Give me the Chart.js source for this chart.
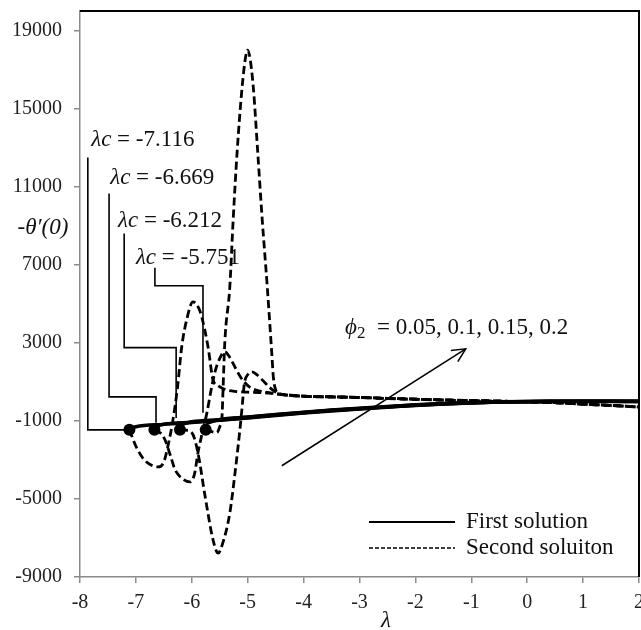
<!DOCTYPE html>
<html><head><meta charset="utf-8">
<script src="https://cdn.jsdelivr.net/npm/chart.js@4.4.1/dist/chart.umd.min.js"></script>
<style>html,body{margin:0;padding:0;background:#fff;overflow:hidden;}canvas{display:block;}</style>
</head><body>
<canvas id="c" width="645" height="630"></canvas>
<script>
// ---- tick labels ----
const xTicks = [-8,-7,-6,-5,-4,-3,-2,-1,0,1,2];
const yTicks = [-9000,-5000,-1000,3000,7000,11000,15000,19000];

// ---- critical points (turning points) ----
const criticalLambda = [-7.116,-6.669,-6.212,-5.751];
const criticalTheta  = [-1450,-1450,-1450,-1450];
const criticalLabels = ['-7.116','-6.669','-6.212','-5.751'];

// ---- first solution (one per phi2) ----
const firstX_A = [-7.116,-7,-6.5,-6,-5.5,-5,-4.5,-4,-3.5,-3,-2.5,-2,-1.5,-1,-0.5,0,0.5,1,1.5,2];
const firstY_A = [-1400,-1300,-1180,-1080,-970,-850,-720,-600,-490,-390,-300,-210,-140,-80,-40,-20,-10,-5,-5,-10];
const firstX_B = [-6.669,-6.5,-6,-5.5,-5,-4.5,-4,-3.5,-3,-2.5,-2,-1.5,-1,-0.5,0,0.5,1,1.5,2];
const firstY_B = [-1300,-1170,-1065,-955,-835,-705,-585,-475,-378,-288,-200,-132,-74,-35,-15,-5,0,0,-5];
const firstX_C = [-6.212,-6,-5.5,-5,-4.5,-4,-3.5,-3,-2.5,-2,-1.5,-1,-0.5,0,0.5,1,1.5,2];
const firstY_C = [-1200,-1050,-940,-820,-690,-570,-460,-366,-276,-190,-124,-68,-30,-10,0,5,5,0];
const firstX_D = [-5.751,-5.5,-5,-4.5,-4,-3.5,-3,-2.5,-2,-1.5,-1,-0.5,0,0.5,1,1.5,2];
const firstY_D = [-1150,-925,-805,-675,-555,-445,-354,-264,-180,-116,-62,-25,-5,5,10,10,5];

// ---- second solution (one per phi2) ----
const secondX_A = [-7.116,-7.0,-6.85,-6.7,-6.6,-6.5,-6.42,-6.34,-6.26,-6.18,-6.09,-5.98,-5.88,-5.82,-5.71,-5.62,-5.53,-5.4,-5.2,-5.0,-4.8,-4.6,-4.4,-4.0,-3.5,-3.0,-2.5,-2.0,-1.5,-1.0,-0.5,0,0.5,1.0,1.5,2.0];
const secondY_A = [-1450,-2300,-3000,-3300,-3360,-3100,-2200,-1000,600,2800,4200,5100,4800,4300,2800,1100,800,600,500,470,450,420,350,260,230,200,150,110,70,40,10,-20,-70,-140,-210,-290];
const secondX_B = [-6.669,-6.55,-6.48,-6.38,-6.3,-6.15,-6.03,-5.95,-5.89,-5.8,-5.73,-5.66,-5.59,-5.5,-5.41,-5.32,-5.23,-5.14,-5.05,-4.95,-4.85,-4.7,-4.55,-4.4,-4.0,-3.5,-3.0,-2.5,-2.0,-1.5,-1.0,-0.5,0,0.5,1.0,1.5,2.0];
const secondY_B = [-1450,-1650,-1970,-2800,-3500,-4000,-4130,-3700,-2640,-1460,-590,500,1460,2200,2540,2250,1770,1300,950,700,580,480,420,360,270,235,205,155,115,72,42,12,-18,-68,-138,-208,-285];
const secondX_C = [-6.212,-6.1,-5.98,-5.89,-5.76,-5.62,-5.53,-5.45,-5.32,-5.22,-5.14,-5.1,-5.06,-4.99,-4.92,-4.83,-4.74,-4.6,-4.5,-4.4,-4.0,-3.5,-3.0,-2.5,-2.0,-1.5,-1.0,-0.5,0,0.5,1.0,1.5,2.0];
const secondY_C = [-1450,-1480,-1700,-2640,-4900,-7100,-7780,-7300,-5720,-3500,-1460,-300,900,1400,1510,1350,1100,690,480,370,265,228,198,148,108,68,38,8,-22,-72,-142,-212,-292];
const secondX_D = [-5.751,-5.65,-5.55,-5.5,-5.46,-5.44,-5.41,-5.32,-5.26,-5.19,-5.1,-5.04,-5.0,-4.96,-4.9,-4.82,-4.74,-4.65,-4.57,-4.54,-4.5,-4.45,-4.3,-4.0,-3.5,-3.0,-2.5,-2.0,-1.5,-1.0,-0.5,0,0.5,1.0,1.5,2.0];
const secondY_D = [-1450,-1550,-1600,-1300,-800,700,3000,5870,9300,12740,16100,17600,18000,17600,16100,12740,9300,5870,2490,1200,600,420,320,255,225,195,145,105,65,35,5,-25,-75,-145,-215,-295];

// ---- label leader lines (data coordinates) ----
const leader1 = [[-7.86,12500],[-7.86,-1460],[-7.12,-1460]];
const leader2 = [[-7.48,10650],[-7.48,230],[-6.64,230],[-6.64,-1100]];
const leader3 = [[-7.21,8600],[-7.21,2750],[-6.28,2750],[-6.28,-850]];
const leader4 = [[-6.66,6850],[-6.66,5920],[-5.80,5920],[-5.80,-590]];
const labelPos = [[-7.80,13400],[-7.46,11450],[-7.32,9250],[-7.0,7360]];
const arrowFrom = [-4.39,-3300];
const arrowTo = [-1.10,2690];

const SERIF = '"Liberation Serif","Times New Roman",serif';
const pts = (xs, ys) => xs.map((x,i)=>({x:x, y:ys[i]}));

const solid = (xs,ys) => ({data:pts(xs,ys), borderColor:'#000', borderWidth:3.5, pointRadius:0, cubicInterpolationMode:'monotone', fill:false});
const dashed = (xs,ys) => ({data:pts(xs,ys), borderColor:'#000', borderWidth:2.8, borderDash:[8,4], pointRadius:0, cubicInterpolationMode:'monotone', fill:false});
const leader = (arr) => ({data:arr.map(p=>({x:p[0],y:p[1]})), borderColor:'#000', borderWidth:1.6, pointRadius:0, tension:0, fill:false});

const datasets = [
  leader(leader1), leader(leader2), leader(leader3), leader(leader4),
  dashed(secondX_A, secondY_A), dashed(secondX_B, secondY_B), dashed(secondX_C, secondY_C), dashed(secondX_D, secondY_D),
  solid(firstX_A, firstY_A), solid(firstX_B, firstY_B), solid(firstX_C, firstY_C), solid(firstX_D, firstY_D),
  {data:pts(criticalLambda, criticalTheta), showLine:false, pointRadius:6, pointBackgroundColor:'#000', pointBorderColor:'#000', pointBorderWidth:0}
];

function runs(ctx, parts, x, y) {
  for (const p of parts) {
    ctx.font = p.f;
    ctx.fillText(p.t, x, y + (p.dy||0));
    x += ctx.measureText(p.t).width;
  }
}

const deco = {
  id:'deco',
  afterDatasetsDraw(chart) {
    const {ctx, chartArea:a, scales:{x, y}} = chart;
    ctx.save();
    // frame top & right
    ctx.strokeStyle = '#000'; ctx.lineWidth = 2;
    ctx.beginPath(); ctx.moveTo(a.left, a.top); ctx.lineTo(a.right, a.top); ctx.lineTo(a.right, a.bottom); ctx.stroke();
    // critical labels
    ctx.fillStyle = '#111'; ctx.textBaseline = 'middle'; ctx.textAlign = 'left';
    criticalLabels.forEach((lab, i) => {
      runs(ctx, [{t:'λc', f:'italic 23px '+SERIF}, {t:' = '+lab, f:'23px '+SERIF}], x.getPixelForValue(labelPos[i][0]), y.getPixelForValue(labelPos[i][1]));
    });
    // phi label
    runs(ctx, [{t:'ϕ', f:'italic 23px '+SERIF}, {t:'2', f:'17px '+SERIF, dy:6}, {t:'  = 0.05, 0.1, 0.15, 0.2', f:'23px '+SERIF}], 345, 328);
    // arrow
    const x0 = x.getPixelForValue(arrowFrom[0]), y0 = y.getPixelForValue(arrowFrom[1]);
    const x1 = x.getPixelForValue(arrowTo[0]), y1 = y.getPixelForValue(arrowTo[1]);
    ctx.strokeStyle = '#000'; ctx.lineWidth = 1.5;
    ctx.beginPath(); ctx.moveTo(x0,y0); ctx.lineTo(x1,y1); ctx.stroke();
    const ang = Math.atan2(y1-y0, x1-x0), L = 15, w = 0.45;
    ctx.beginPath();
    ctx.moveTo(x1 - L*Math.cos(ang-w), y1 - L*Math.sin(ang-w));
    ctx.lineTo(x1, y1);
    ctx.lineTo(x1 - L*Math.cos(ang+w), y1 - L*Math.sin(ang+w));
    ctx.stroke();
    // legend
    ctx.lineWidth = 2; ctx.setLineDash([]);
    ctx.beginPath(); ctx.moveTo(369, 522); ctx.lineTo(455, 522); ctx.stroke();
    ctx.lineWidth = 1.6; ctx.setLineDash([4,2]);
    ctx.beginPath(); ctx.moveTo(369, 548); ctx.lineTo(455, 548); ctx.stroke();
    ctx.setLineDash([]);
    ctx.fillStyle = '#111'; ctx.font = '23px '+SERIF;
    ctx.fillText('First solution', 466, 522);
    ctx.fillText('Second soluiton', 466, 548);
    // axis titles
    ctx.textAlign = 'center';
    ctx.font = 'italic 23px '+SERIF;
    ctx.fillText('-θ′(0)', 43, 228);
    ctx.fillText('λ', 386, 621);
    ctx.restore();
  }
};

new Chart(document.getElementById('c'), {
  type:'line',
  data:{datasets},
  options:{
    responsive:false, animation:false,
    layout:{padding:{top:11, right:0, left:0, bottom:0}},
    plugins:{legend:{display:false}, tooltip:{enabled:false}},
    scales:{
      x:{type:'linear', min:-8, max:2,
         afterBuildTicks:s=>{s.ticks = xTicks.map(v=>({value:v}));},
         afterFit:s=>{s.height = 53; s.paddingLeft = 0; s.paddingRight = 0;},
         grid:{drawOnChartArea:false, tickLength:6, color:'#8a8a8a', lineWidth:1.5},
         border:{color:'#8a8a8a', width:1.5},
         ticks:{font:{family:SERIF, size:20}, color:'#222', padding:8, maxRotation:0, autoSkip:false, callback:v=>String(v)}},
      y:{type:'linear', min:-9000, max:20000,
         afterBuildTicks:s=>{s.ticks = yTicks.map(v=>({value:v}));},
         afterFit:s=>{s.width = 80; s.paddingTop = 0; s.paddingBottom = 0;},
         grid:{drawOnChartArea:false, tickLength:6, color:'#8a8a8a', lineWidth:1.5},
         border:{color:'#8a8a8a', width:1.5},
         ticks:{font:{family:SERIF, size:20}, color:'#222', padding:12, autoSkip:false, callback:v=>String(v)}}
    }
  },
  plugins:[deco]
});
</script>
</body></html>
